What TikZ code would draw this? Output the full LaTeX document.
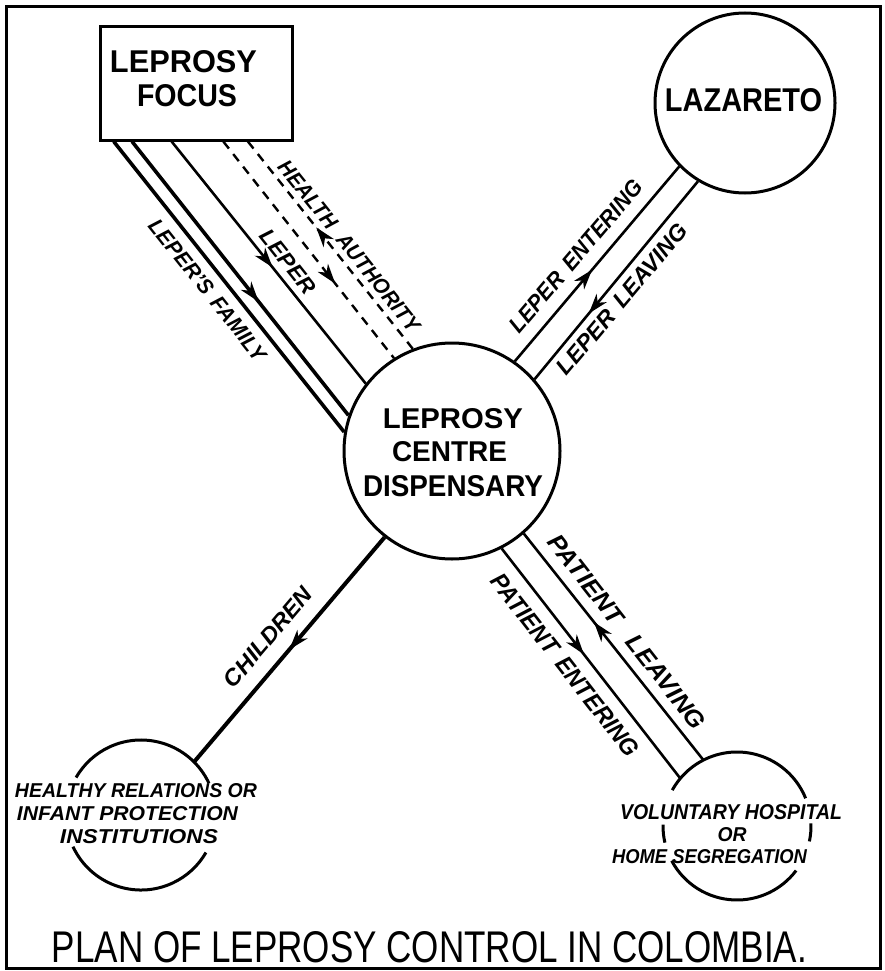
\documentclass[tikz,border=0pt]{standalone}
\usepackage{fontspec}
\setmainfont{Liberation Sans}
\usepackage{graphicx}
\usetikzlibrary{calc,decorations.markings,arrows.meta}
\newcommand{\fitbox}[3]{\resizebox{#1pt}{#2pt}{#3}}
\tikzset{
  frame/.style={line width=3pt},
  box/.style={draw, line width=3pt, inner sep=0pt},
  ring/.style={circle, draw, line width=3pt, inner sep=0pt},
  ghost/.style={circle, inner sep=0pt, outer sep=0pt},
  arcline/.style={line width=3pt},
  flow/.style={line width=2.6pt},
  heavy/.style={line width=3.6pt},
  dashflow/.style={line width=2.4pt, dash pattern=on 9pt off 7pt},
  fwd/.style={postaction={decorate, decoration={markings, mark=at position #1 with {\arrow[solid]{Stealth[length=20pt,width=13pt,inset=6pt]}}}}},
  bwd/.style={postaction={decorate, decoration={markings, mark=at position #1 with {\arrow[solid]{Stealth[length=20pt,width=13pt,inset=6pt,reversed]}}}}},
  lbl/.style={inner sep=0pt, font=\bfseries\itshape},
  big/.style={inner sep=0pt, font=\bfseries},
  titletext/.style={inner sep=0pt},
}
\begin{document}
\begin{tikzpicture}[x=1pt,y=-1pt]
\useasboundingbox (0,0) rectangle (884,971);
\draw[frame] (6,7) rectangle (880,968);

% nodes
\node[box, minimum width=192pt, minimum height=113pt] (focus) at (196,83.5) {};
\node[big] (focust1) at (183.5,62) {\fitbox{147}{22}{LEPROSY}};
\node[big] (focust2) at (187,96) {\fitbox{100}{22}{FOCUS}};

\node[ring, minimum size=216pt] (cen) at (452,451) {};
\node[big] (cent1) at (453,419) {\fitbox{140}{20}{LEPROSY}};
\node[big] (cent2) at (449.5,452) {\fitbox{115}{20}{CENTRE}};
\node[big] (cent3) at (453,486) {\fitbox{180}{21}{DISPENSARY}};

\node[ring, minimum size=180pt] (laz) at (745,103) {};
\node[big] (lazt) at (743.5,100) {\fitbox{157}{23}{LAZARETO}};

\node[ghost, minimum size=150pt] (hr) at (141,815) {};
\node[ghost, minimum size=148pt] (vol) at (737,826) {};

% broken circles
\draw[arcline] (hr.25) arc[start angle=25, end angle=150, radius=75pt];
\draw[arcline] (hr.205) arc[start angle=205, end angle=330, radius=75pt];
\draw[arcline] (vol.22) arc[start angle=22, end angle=151, radius=74pt];
\draw[arcline] (vol.208) arc[start angle=208, end angle=323, radius=74pt];
\draw[arcline] (vol.179) arc[start angle=179, end angle=193, radius=74pt];
\draw[arcline] (vol.-12) arc[start angle=-12, end angle=2, radius=74pt];

% connectors from focus
\draw[heavy] ($(focus.south west)!0.078!(focus.south east)$) -- (cen.170);
\draw[heavy, fwd=0.585] ($(focus.south west)!0.172!(focus.south east)$) -- (cen.161.6);
\draw[flow, fwd=0.52] ($(focus.south west)!0.375!(focus.south east)$) -- (cen.142.6);
\draw[dashflow, fwd=0.656] ($(focus.south west)!0.64!(focus.south east)$) -- (cen.122);
\draw[dashflow, bwd=0.49] ($(focus.south west)!0.766!(focus.south east)$) -- (cen.111);

% lazareto
\draw[flow, fwd=0.47] (cen.55.6) -- (laz.224.6);
\draw[flow, bwd=0.41] (cen.41.3) -- (laz.239.2);

% children
\draw[line width=4pt, fwd=0.5] (cen.232.4) -- (hr.45);

% patients
\draw[flow, fwd=0.46] (cen.-63.2) -- (vol.140.8);
\draw[flow, bwd=0.46] (cen.-49.7) -- (vol.117);

% connector labels
\node[lbl, rotate=-51.6] (lfam) at (208,290) {\fitbox{175}{15}{LEPER'S\hspace{0.15em} FAMILY}};
\node[lbl, rotate=-51.5] (llep) at (288,262) {\fitbox{76}{15}{LEPER}};
\node[lbl, rotate=-51.3] (lha) at (349,246) {\fitbox{213}{15}{HEALTH\hspace{0.3em} AUTHORITY}};
\node[lbl, rotate=49.5] (lle) at (576,256) {\fitbox{192}{16}{LEPER\hspace{0.15em} ENTERING}};
\node[lbl, rotate=50] (llv) at (622,299) {\fitbox{190}{16}{LEPER\hspace{0.15em} LEAVING}};
\node[lbl, rotate=49.6] (lch) at (268,637) {\fitbox{124}{16}{CHILDREN}};
\node[lbl, rotate=-52] (lpl) at (627,632) {\fitbox{240}{17}{PATIENT\hspace{0.5em} LEAVING}};
\node[lbl, rotate=-52] (lpe) at (565,665) {\fitbox{225}{17}{PATIENT\hspace{0.15em} ENTERING}};

% destination texts
\node[lbl] (h1) at (136,790.5) {\fitbox{242}{14}{HEALTHY RELATIONS OR}};
\node[lbl] (h2) at (127.5,813.5) {\fitbox{221}{14}{INFANT PROTECTION}};
\node[lbl] (h3) at (139,837) {\fitbox{158}{14}{INSTITUTIONS}};
\node[lbl] (v1) at (731,812.5) {\fitbox{222}{15}{VOLUNTARY HOSPITAL}};
\node[lbl] (v2) at (732,835) {\fitbox{29}{14}{OR}};
\node[lbl] (v3) at (709.5,857) {\fitbox{195}{14}{HOME SEGREGATION}};

% title
\node[titletext] (title) at (429.5,947.5) {\fitbox{755}{31}{PLAN OF LEPROSY CONTROL IN COLOMBIA.}};
\end{tikzpicture}
\end{document}
